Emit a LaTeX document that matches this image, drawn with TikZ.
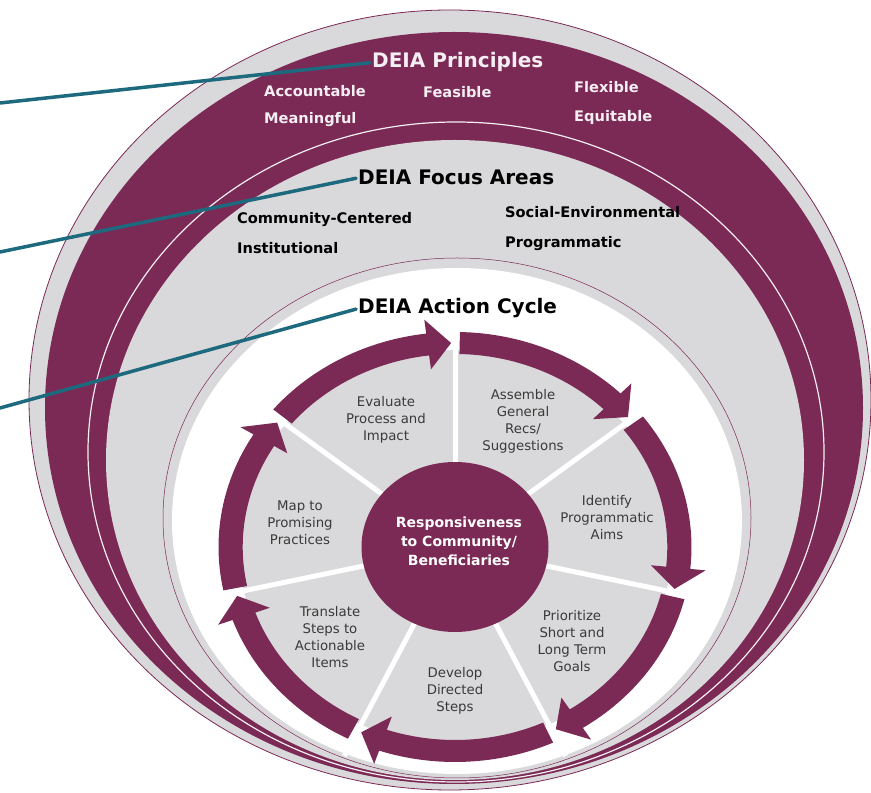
\documentclass[tikz,border=0pt]{standalone}
\usepackage{fontspec}
\setmainfont{DejaVu Sans}

\definecolor{deiamaroon}{HTML}{7B2955}
\definecolor{deiagray}{HTML}{D9D8DA}
\definecolor{deiateal}{HTML}{1D6A7E}
\definecolor{deiatext}{HTML}{3A3A3A}
\definecolor{deiawhite}{HTML}{F5EEF2}

\tikzset{
  heading/.style={anchor=base west, inner sep=0pt, font=\fontsize{20}{22}\selectfont\bfseries},
  ringword/.style={anchor=base west, inner sep=0pt, font=\fontsize{14.6}{16}\selectfont\bfseries},
  steplabel/.style={align=center, inner sep=0pt, text=deiatext, font=\fontsize{13.3}{17}\selectfont},
  hubtext/.style={align=center, inner sep=0pt, text=white, font=\fontsize{14}{19}\selectfont\bfseries},
  pointer/.style={draw=deiateal, line width=3.5pt, line cap=round, shorten >=2pt},
}

\begin{document}
\begin{tikzpicture}[x=1pt, y=1pt]
  \useasboundingbox (0,0) rectangle (871,793);
  \clip (0,0) rectangle (871,793);

  % nested rings, all resting on the bottom
  \filldraw[fill=deiagray, draw=deiamaroon, line width=0.8pt] (450,393) ellipse [x radius=421, y radius=390];
  \fill[deiamaroon] (454,385) ellipse [x radius=409, y radius=376];
  \filldraw[fill=deiamaroon, draw=deiawhite, line width=1.2pt] (456,341) ellipse [x radius=368, y radius=330];
  \fill[deiagray] (455,333) ellipse [x radius=349, y radius=320];
  \filldraw[fill=deiagray, draw=deiamaroon, line width=0.5pt] (457,275) ellipse [x radius=294, y radius=260];
  \fill[white] (457,272) ellipse [x radius=285, y radius=253];

  % action cycle wheel
  \begin{scope}[shift={(455,246)}, xscale=1.1]
    \fill[deiagray] (0,0) circle [radius=197];
    \foreach \a in {0,...,6}{
      \draw[white, line width=5pt] (0,0) -- ({90+\a*360/7}:232);
    }
    \foreach \a in {0,...,6}{
      \pgfmathsetmacro{\tip}{90+\a*360/7+1}
      \pgfmathsetmacro{\tail}{90+(\a+1)*360/7-1.2}
      \pgfmathsetmacro{\neck}{\tip+6}
      \fill[deiamaroon] (\tail:193) arc [start angle=\tail, end angle=\neck, radius=193]
        -- (\neck:179) -- (\tip:204) -- (\neck:229) -- (\neck:215)
        arc [start angle=\neck, end angle=\tail, radius=215] -- cycle;
    }
    \fill[deiamaroon] (0,0) circle [radius=85];
  \end{scope}

  % ring titles and entries
  \node[heading, text=deiawhite] (principles) at (372,725) {DEIA Principles};
  \node[ringword, text=deiawhite] (accountable) at (264,696) {Accountable};
  \node[ringword, text=deiawhite] (meaningful) at (264,669) {Meaningful};
  \node[ringword, text=deiawhite] (feasible) at (423,695) {Feasible};
  \node[ringword, text=deiawhite] (flexible) at (574,700) {Flexible};
  \node[ringword, text=deiawhite] (equitable) at (574,671) {Equitable};

  \node[heading] (focus) at (358,608) {DEIA Focus Areas};
  \node[ringword] (community) at (237,569) {Community-Centered};
  \node[ringword] (institutional) at (237,539) {Institutional};
  \node[ringword] (social) at (505,575) {Social-Environmental};
  \node[ringword] (programmatic) at (505,545) {Programmatic};

  \node[heading] (cycle) at (358,479) {DEIA Action Cycle};

  % wheel steps
  \node[steplabel] (evaluate) at (386,373) {Evaluate\\Process and\\Impact};
  \node[steplabel] (assemble) at (523,372) {Assemble\\General\\Recs/\\Suggestions};
  \node[steplabel] (identify) at (607,275) {Identify\\Programmatic\\Aims};
  \node[steplabel] (prioritize) at (572,152) {Prioritize\\Short and\\Long Term\\Goals};
  \node[steplabel] (develop) at (455,102) {Develop\\Directed\\Steps};
  \node[steplabel] (translate) at (330,156) {Translate\\Steps to\\Actionable\\Items};
  \node[steplabel] (mapto) at (300,270) {Map to\\Promising\\Practices};
  \node[hubtext] (hub) at (459,252) {Responsiveness\\to Community/\\Beneficiaries};

  % pointers from the left margin
  \coordinate (principles-in) at (0,690);
  \coordinate (focus-in) at (0,541);
  \coordinate (cycle-in) at (0,385);
  \draw[pointer] (principles-in) -- (principles.west);
  \draw[pointer] (focus-in) -- (focus.west);
  \draw[pointer] (cycle-in) -- (cycle.west);
\end{tikzpicture}
\end{document}
